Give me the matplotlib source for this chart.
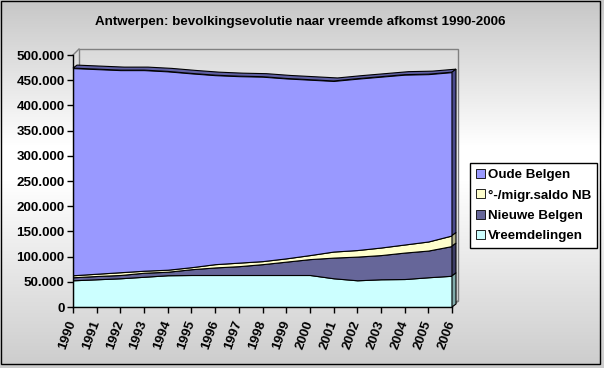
import numpy as np
import matplotlib
matplotlib.use("Agg")
import matplotlib.pyplot as plt
from matplotlib.patches import Patch, Polygon, Rectangle
from matplotlib.ticker import FuncFormatter

plt.rcParams['font.family'] = ['Liberation Sans', 'DejaVu Sans']

years = list(range(1990, 2007))
vreemdelingen = [53000, 55000, 57000, 60000, 63000, 63500, 63500, 63500, 63500,
                 63500, 63500, 57000, 53000, 55000, 55500, 59000, 62000]
nieuwe_belgen = [6000, 6500, 6500, 8000, 7000, 11500, 15000, 17500, 21500,
                 26500, 31500, 41000, 47000, 48000, 52500, 53000, 59000]
migr_saldo = [4000, 4500, 5500, 4000, 4000, 4000, 6500, 7000, 6000,
              6500, 8000, 12000, 13000, 15000, 16000, 18000, 21000]
oude_belgen = [411000, 406000, 401000, 398000, 393500, 384500, 375000, 370000, 366000,
               357000, 348000, 338500, 340000, 339000, 337000, 332000, 324000]

labels = ['Vreemdelingen', 'Nieuwe Belgen', '°-/migr.saldo NB', 'Oude Belgen']
colors = ['#CCFFFF', '#666699', '#FFFFCC', '#9999FF']
side_colors = ['#80aaaa', '#3d3d66', '#b0b08c', '#4a4a8c']
title = 'Antwerpen: bevolkingsevolutie naar vreemde afkomst 1990-2006'

W, H = 604, 368
fig = plt.figure(figsize=(W / 100, H / 100), dpi=100)

# achtergrond met verloop (grijs - wit - grijs)
bg = fig.add_axes([0, 0, 1, 1], zorder=-10)
yy = np.arange(H)
g = np.interp(yy, [0, 145, 180, H], [0.78, 1.0, 1.0, 0.80])
img = np.repeat(g[:, None], 2, axis=1)
bg.imshow(np.dstack([img, img, img]), aspect='auto', extent=[0, 1, 0, 1])
bg.set_xlim(0, 1)
bg.set_ylim(0, 1)
bg.axis('off')
bg.add_patch(Rectangle((1 / W, 1 - 364 / H), 599 / W, 363 / H, fill=False,
                       edgecolor='black', linewidth=1.0, transform=bg.transAxes))

# plot area in pixels
x0, x1, y0, y1 = 73, 452, 307, 55
ax = fig.add_axes([x0 / W, 1 - y0 / H, (x1 - x0) / W, (y0 - y1) / H])
ax.set_xlim(1990, 2006)
ax.set_ylim(0, 500000)
ax.patch.set_alpha(0)
ppx = (x1 - x0) / 16.0
ppy = (y0 - y1) / 500000.0

# achterwand
wdx, wdy = 6 / ppx, 6 / ppy
ax.add_patch(Rectangle((1990 + wdx, wdy), 16, 500000, fill=False, edgecolor='#808080',
                       linewidth=1.0, clip_on=False, zorder=0))
ax.plot([1990, 1990 + wdx], [500000, 500000 + wdy], color='#808080', lw=1.0, clip_on=False, zorder=0)
ax.plot([2006, 2006 + wdx], [0, wdy], color='#808080', lw=1.0, clip_on=False, zorder=0)

layers = [vreemdelingen, nieuwe_belgen, migr_saldo, oude_belgen]
ax.stackplot(years, *layers, colors=colors, edgecolor='black', linewidth=0.8, zorder=2)

# 3D randen: bovenvlak en zijvlak
sdx, sdy = 4 / ppx, 3 / ppy
cum = np.cumsum(np.array(layers, dtype=float), axis=0)
top = cum[-1]
xs = np.array(years, dtype=float)
pts = list(zip(xs, top)) + list(zip(xs[::-1] + sdx, top[::-1] + sdy))
ax.add_patch(Polygon(pts, closed=True, facecolor='#5f5fa3', edgecolor='black',
                     linewidth=0.8, clip_on=False, zorder=3))
lo = 0.0
for i in range(4):
    hi = cum[i][-1]
    ax.add_patch(Polygon([(2006, lo), (2006, hi), (2006 + sdx, hi + sdy), (2006 + sdx, lo + sdy)],
                         closed=True, facecolor=side_colors[i], edgecolor='black',
                         linewidth=0.8, clip_on=False, zorder=3))
    lo = hi

for s in ['top', 'right']:
    ax.spines[s].set_visible(False)
for s in ['left', 'bottom']:
    ax.spines[s].set_linewidth(1.0)
    ax.spines[s].set_zorder(4)

ax.set_yticks(range(0, 500001, 50000))
ax.yaxis.set_major_formatter(FuncFormatter(lambda v, p: f"{int(v):,}".replace(',', '.')))
ax.set_xticks(years)
ax.set_xticklabels([str(y) for y in years], rotation=70, ha='right', va='center',
                   rotation_mode='anchor')
ax.tick_params(axis='both', direction='out', length=4, width=1.0, labelsize=9.6)
ax.tick_params(axis='x', pad=6)
ax.tick_params(axis='y', pad=2)
for t in ax.get_yticklabels() + ax.get_xticklabels():
    t.set_fontweight('bold')

fig.text(300 / W, 1 - 22 / H, title, ha='center', va='center', fontsize=9.6,
         fontweight='bold')

handles = [Patch(facecolor=colors[i], edgecolor='black', linewidth=0.6, label=labels[i])
           for i in [3, 2, 1, 0]]
leg = fig.legend(handles=handles, loc='upper left', bbox_to_anchor=(470 / W, 1 - 163 / H),
                 frameon=True, fancybox=False, edgecolor='black', framealpha=1,
                 fontsize=9.6, handlelength=0.65, handleheight=0.65, handletextpad=0.25,
                 labelspacing=0.62, borderpad=0.45, borderaxespad=0)
leg.get_frame().set_linewidth(1.0)
for t in leg.get_texts():
    t.set_fontweight('bold')

fig.savefig('out.png', dpi=100)
